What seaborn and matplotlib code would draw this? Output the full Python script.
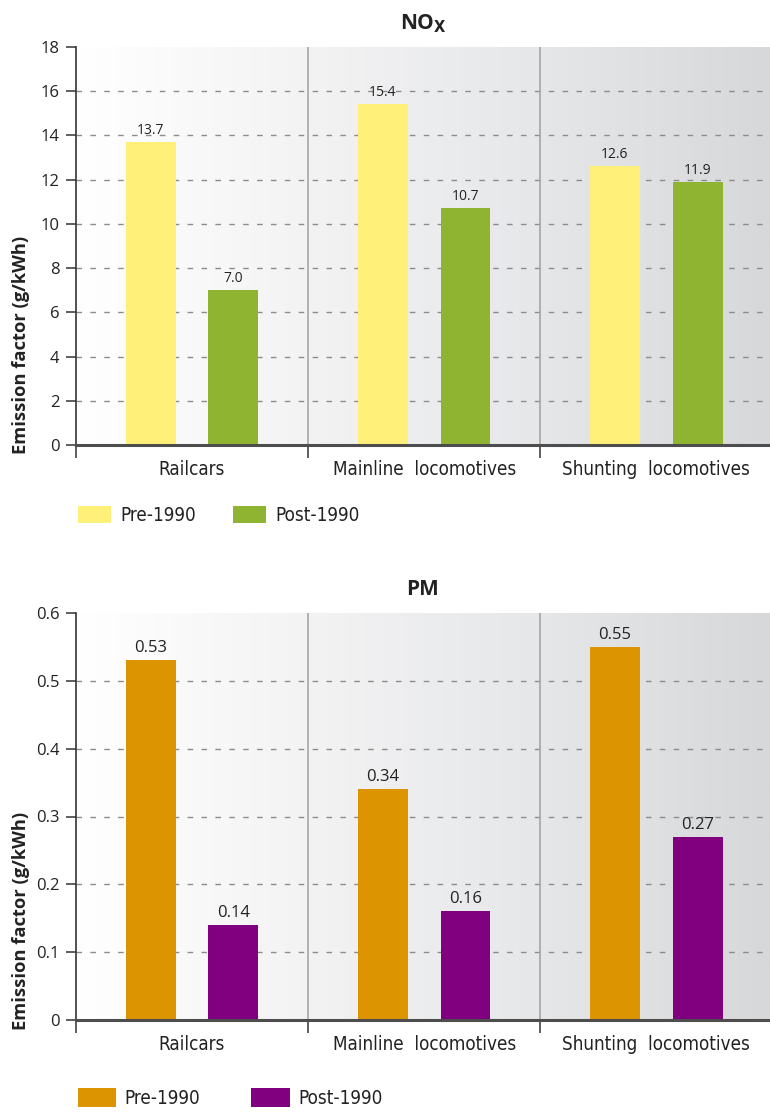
import numpy as np
import pandas as pd
import matplotlib
matplotlib.use("Agg")
import matplotlib.pyplot as plt
from matplotlib import font_manager
from matplotlib.patches import Patch
from matplotlib.colors import LinearSegmentedColormap
import seaborn as sns

# ---- data -------------------------------------------------------------
categories = ["Railcars", "Mainline  locomotives", "Shunting  locomotives"]
periods = ["Pre-1990", "Post-1990"]

nox_pre = [13.7, 15.4, 12.6]
nox_post = [7.0, 10.7, 11.9]
nox_ticks = [0, 2, 4, 6, 8, 10, 12, 14, 16, 18]
nox_tick_labels = ["0", "2", "4", "6", "8", "10", "12", "14", "16", "18"]

pm_pre = [0.53, 0.34, 0.55]
pm_post = [0.14, 0.16, 0.27]
pm_ticks = [0, 0.1, 0.2, 0.3, 0.4, 0.5, 0.6]
pm_tick_labels = ["0", "0.1", "0.2", "0.3", "0.4", "0.5", "0.6"]

nox_colors = ["#fff07a", "#8fb431"]
pm_colors = ["#dc9500", "#800080"]

# ---- style ------------------------------------------------------------
sns.set_theme(style="white")
plt.rcParams["font.family"] = ["Open Sans", "DejaVu Sans"]
INK = "#222222"


def narrow_font():
    """Pick a condensed face for category and legend labels if one exists."""
    for fam, stretch in (("Liberation Sans Narrow", "normal"),
                         ("DejaVu Sans", "condensed")):
        try:
            path = font_manager.findfont(
                font_manager.FontProperties(family=fam, stretch=stretch),
                fallback_to_default=False)
        except ValueError:
            continue
        name = path.lower()
        if "narrow" in name or "condensed" in name:
            return dict(family=fam, stretch=stretch), 13.5
    return dict(family="Open Sans", stretch="normal"), 12.5


NARROW, NARROW_SIZE = narrow_font()

bg_cmap = LinearSegmentedColormap.from_list(
    "panel_bg", ["#ffffff", "#f3f3f4", "#e6e7e9", "#d7d8da"])

fig = plt.figure(figsize=(7.7, 11.14), dpi=100)
ax_top = fig.add_axes([76 / 770, 1 - 445 / 1114, 694 / 770, 398 / 1114])
ax_bot = fig.add_axes([76 / 770, 1 - 1020 / 1114, 694 / 770, 407 / 1114])


def draw_panel(ax, pre, post, colors, ticks, tick_labels, title, fmt,
               value_size, label_y, legend_y, legend_kw):
    df = pd.DataFrame({
        "category": categories * 2,
        "period": [periods[0]] * len(categories) + [periods[1]] * len(categories),
        "value": list(pre) + list(post),
    })

    # horizontal shading of the plotting area
    ax.imshow(np.linspace(0, 1, 256)[None, :], cmap=bg_cmap, aspect="auto",
              extent=(0, 1, 0, 1), transform=ax.transAxes, zorder=0)

    sns.barplot(data=df, x="category", y="value", hue="period",
                order=categories, hue_order=periods, palette=colors,
                saturation=1, width=0.712, gap=0.396, legend=False,
                linewidth=0, zorder=3, ax=ax)

    ax.set_xlim(-0.5, 2.49)
    ax.set_ylim(ticks[0], ticks[-1])

    # dashed gridlines and group separators
    for t in ticks[1:-1]:
        ax.axhline(t, color="#8c8c8c", lw=1.0, ls=(0, (4, 6)), zorder=1.5)
    for xs in (0.5, 1.5):
        ax.axvline(xs, color="#a6a6a6", lw=1.2, zorder=1.6)

    for c in ax.containers:
        ax.bar_label(c, fmt=fmt, padding=3, fontsize=value_size,
                     color=INK, zorder=4)

    # axes frame
    for side in ("top", "right"):
        ax.spines[side].set_visible(False)
    ax.spines["left"].set_color("#333333")
    ax.spines["left"].set_linewidth(1.2)
    ax.spines["bottom"].set_color("#4d4d4d")
    ax.spines["bottom"].set_linewidth(2.2)
    ax.spines["bottom"].set_zorder(5)

    ax.set_yticks(ticks)
    ax.set_yticklabels(tick_labels)
    ax.tick_params(axis="y", length=7, width=1.1, color="#333333", pad=5,
                   labelsize=12, labelcolor=INK, left=True)

    ax.set_xticks([-0.5, 0.5, 1.5])
    ax.set_xticklabels([])
    ax.tick_params(axis="x", which="major", length=9, width=1.1,
                   color="#333333", bottom=True)
    ax.set_xticks([0, 1, 2], minor=True)
    ax.set_xticklabels(categories, minor=True, fontsize=NARROW_SIZE,
                       color=INK, **NARROW)
    ax.tick_params(axis="x", which="minor", length=0, pad=11)

    ax.set_xlabel("")
    ax.set_ylabel("Emission factor (g/kWh)", fontsize=13.2,
                  fontweight="bold", color=INK, va="center")
    ax.yaxis.set_label_coords(-0.079, label_y)
    ax.set_title(title, fontsize=15, fontweight="bold", color=INK, pad=13)

    handles = [Patch(facecolor=col, edgecolor="none") for col in colors]
    fig.legend(handles, periods, loc="upper left",
               bbox_to_anchor=(78 / 770, legend_y), ncol=2, frameon=False,
               borderpad=0, borderaxespad=0,
               prop=dict(size=NARROW_SIZE, **NARROW), labelcolor=INK,
               **legend_kw)


draw_panel(ax_top, nox_pre, nox_post, nox_colors, nox_ticks,
           nox_tick_labels, r"NO$_\mathbf{X}$", "{:.1f}", 10, 0.251,
           1 - 506 / 1114,
           dict(handlelength=1.75, handleheight=1.05, handletextpad=0.5,
                columnspacing=2.0))

draw_panel(ax_bot, pm_pre, pm_post, pm_colors, pm_ticks,
           pm_tick_labels, "PM", "{:.2f}", 12, 0.243,
           1 - 1088 / 1114,
           dict(handlelength=2.05, handleheight=1.15, handletextpad=0.45,
                columnspacing=2.7))

fig.savefig("out.png", dpi=100)
